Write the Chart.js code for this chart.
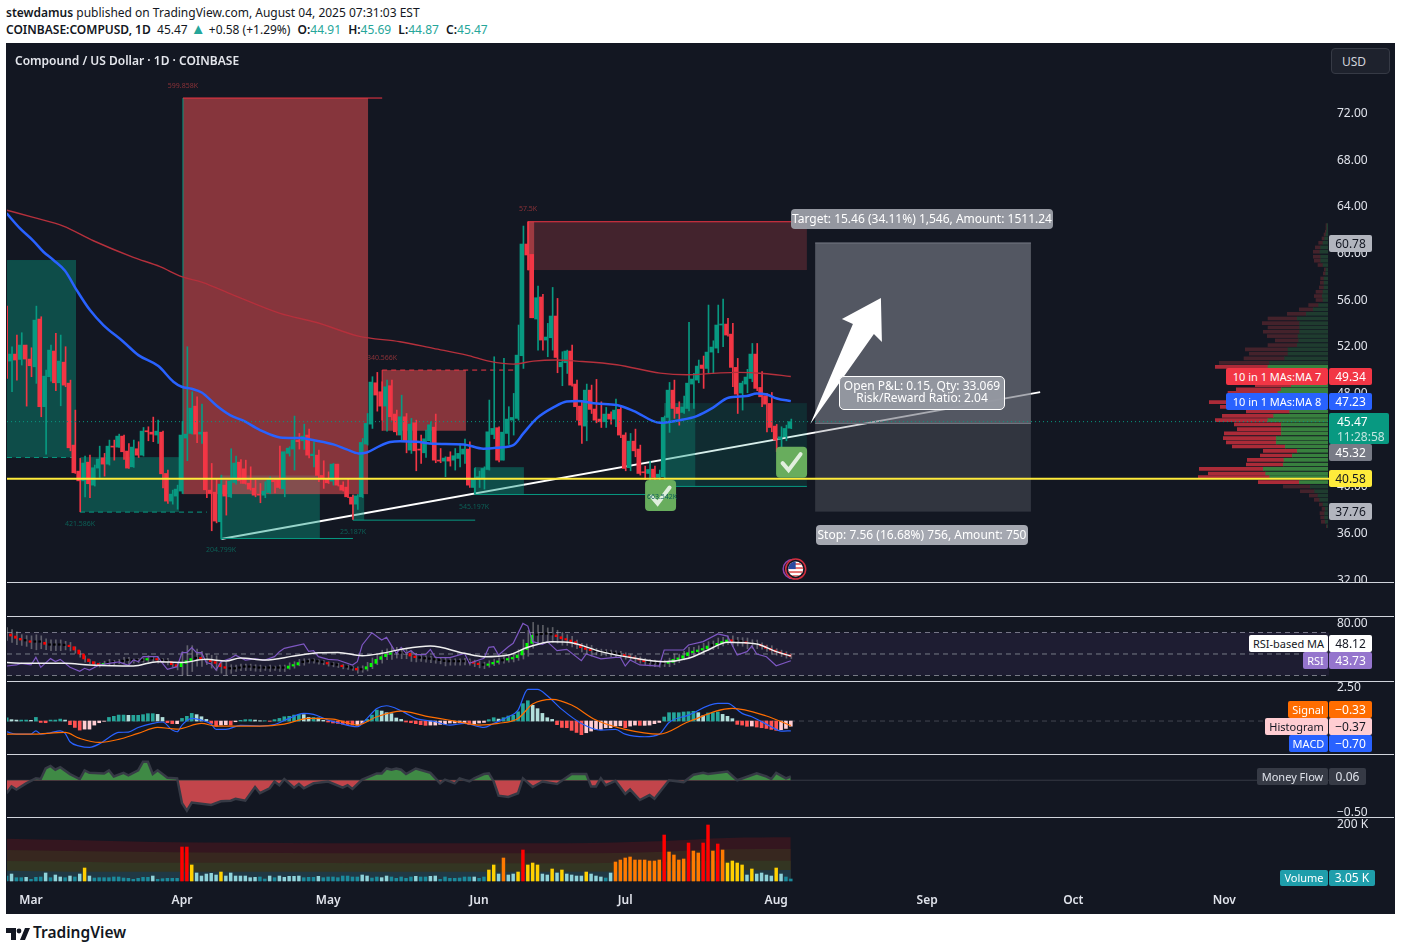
<!DOCTYPE html>
<html>
<head>
<meta charset="utf-8">
<title>COMPUSD</title>
<script src="https://cdn.jsdelivr.net/npm/chart.js@4"></script>
<style>
html,body{margin:0;padding:0;background:#fff;width:1401px;height:951px;overflow:hidden;font-family:"Noto Sans",sans-serif}
#head{position:absolute;left:6px;top:4px;font-size:12px;line-height:17px;color:#131722;white-space:nowrap}
#head b{font-weight:600}
#head .v{color:#26a69a}
#head .t{color:#26a69a;font-size:15px;line-height:12px}
#head .k{margin-left:4px}
#board{position:absolute;left:6px;top:43px;width:1389px;height:871px;background:#131722}
canvas{position:absolute;left:0}
.sep{position:absolute;left:7px;width:1387px;height:1px;background:#d1d4dc;z-index:5}
.chip{position:absolute;z-index:6;font-size:12px;text-align:center;border-radius:2px;white-space:nowrap;box-sizing:border-box}
.chip.leg{font-size:11px}
#title{position:absolute;left:15px;top:52px;font-size:12px;font-weight:600;color:#e4e6ec;z-index:6}
#usd{position:absolute;left:1331px;top:48px;width:59px;height:26px;line-height:26px;box-sizing:border-box;padding-left:10px;border:1px solid #363a45;border-radius:4px;background:#1e222d;color:#d1d4dc;font-size:12px;z-index:6}
#logo{position:absolute;left:6px;top:923px;color:#131722;font-size:15.5px;font-weight:600;line-height:18px}
#logo svg{vertical-align:-2px;margin-right:3px}
</style>
</head>
<body>
<div id="head">
<div><b>stewdamus</b> published on TradingView.com, August 04, 2025 07:31:03 EST</div>
<div><b>COINBASE:COMPUSD, 1D</b>&nbsp; 45.47 <span class="t">▲</span> +0.58 (+1.29%) <b class="k">O:</b><span class="v">44.91</span> <b class="k">H:</b><span class="v">45.69</span> <b class="k">L:</b><span class="v">44.87</span> <b class="k">C:</b><span class="v">45.47</span></div>
</div>
<div id="board"></div>
<div id="title">Compound / US Dollar · 1D · COINBASE</div>
<div id="usd">USD</div>
<canvas id="profileChart" width="1401" height="538" style="top:44px"></canvas>
<canvas id="mainChart" width="1401" height="538" style="top:44px"></canvas>
<canvas id="rsiChart" width="1401" height="69" style="top:612px"></canvas>
<canvas id="macdChart" width="1401" height="77" style="top:677px"></canvas>
<canvas id="flowChart" width="1401" height="67" style="top:750px"></canvas>
<canvas id="volChart" width="1401" height="101" style="top:813px"></canvas>
<div id="overlay"></div>
<div id="logo"><svg width="24" height="12" viewBox="0 0 24 12"><path d="M0 0h10v12H5V5H0zM19 0h5l-5 12h-5z" fill="#131722"/><circle cx="13" cy="3" r="2.4" fill="#131722"/></svg>TradingView</div>

<script>
// days are counted from Mar 1 2025, first bar sits on day -5
const monthDays = [0, 31, 61, 92, 122, 153, 184, 214, 245];
const monthNames = ['Mar', 'Apr', 'May', 'Jun', 'Jul', 'Aug', 'Sep', 'Oct', 'Nov'];
const priceTicks = [32, 36, 40, 44, 48, 52, 56, 60, 64, 68, 72];

const opens = [
55.37,50.66,51.26,50.80,52.03,50.83,50.17,54.26,46.75,49.32,
51.52,48.80,50.57,48.77,43.46,41.23,40.40,42.00,40.03,41.49,
42.37,41.83,43.37,43.29,44.23,42.95,41.60,43.15,42.60,44.69,
44.57,44.32,44.57,41.03,38.66,39.09,39.52,44.06,44.46,46.80,
44.40,44.57,39.60,39.43,36.89,40.03,39.03,40.26,42.00,41.43,
40.20,39.77,39.26,39.17,39.40,40.46,40.52,39.72,42.75,43.12,
43.89,43.83,44.32,42.55,42.60,40.86,40.60,40.37,41.83,40.03,
39.86,39.00,38.40,39.03,43.55,45.26,48.80,48.03,46.80,48.55,
46.12,44.32,45.89,43.03,45.37,43.12,42.80,43.83,45.00,42.17,
42.09,42.43,42.17,42.32,42.69,43.12,39.83,40.52,40.60,41.37,
44.37,44.95,42.17,44.46,45.60,45.75,51.12,60.69,59.80,54.26,
56.15,52.46,52.66,54.52,50.17,50.52,51.52,48.69,46.80,45.09,
48.17,46.55,45.69,45.46,46.12,45.69,46.52,44.32,41.52,43.80,
43.12,41.17,41.03,41.40,40.69,40.75,45.83,48.17,46.69,46.26,
46.60,48.69,49.03,50.32,50.03,51.43,51.77,53.75,53.83,52.97,
50.12,47.92,48.69,49.17,51.26,48.40,47.69,47.03,45.09,43.95,
44.17,44.91];
const closes = [
50.46,51.26,50.75,52.03,50.83,50.26,54.17,46.75,49.37,51.60,
48.80,50.66,48.60,43.23,41.09,40.40,41.92,40.15,41.52,42.26,
41.83,43.37,43.29,44.23,42.89,41.49,43.29,42.60,44.66,44.60,
44.40,44.66,41.00,38.66,39.26,39.69,44.32,44.40,46.63,44.40,
44.57,39.63,39.32,36.95,40.12,39.09,40.37,41.92,40.40,40.17,
39.69,39.17,39.17,39.52,40.60,40.32,39.83,42.89,43.20,43.89,
43.75,44.23,42.60,42.69,40.86,40.60,40.23,41.83,40.03,39.60,
39.03,38.40,39.09,43.69,45.32,48.86,47.75,46.80,48.46,45.89,
44.60,45.89,43.80,45.26,42.97,43.03,44.00,45.20,42.17,42.09,
42.35,42.09,42.55,42.75,43.12,40.03,40.60,40.75,41.46,44.60,
44.89,42.17,44.57,45.69,45.83,51.17,60.69,59.75,54.37,56.09,
52.46,52.72,54.52,50.97,50.57,51.52,48.60,46.75,45.17,48.17,
46.52,45.60,45.46,46.12,45.69,46.46,44.32,41.46,43.80,42.97,
41.03,41.09,41.37,40.69,40.97,45.83,48.17,46.60,46.17,46.72,
48.77,49.12,50.23,50.03,51.43,51.86,53.75,53.80,52.89,50.12,
47.83,48.77,49.29,51.26,48.32,47.60,46.97,44.97,43.89,44.17,
44.89,45.47];
const highs = [
55.37,51.89,52.89,53.09,52.03,51.80,55.37,54.46,49.89,52.03,
53.03,52.89,51.89,49.03,46.46,42.32,42.52,42.60,41.75,43.37,
42.75,43.89,43.89,44.40,44.32,43.60,43.89,43.75,44.97,45.03,
45.86,45.60,44.66,41.32,39.60,40.03,45.49,51.89,48.03,47.60,
46.97,44.57,41.89,40.52,40.89,40.40,43.15,42.52,42.23,42.17,
41.60,40.46,40.17,40.32,40.75,40.52,43.37,42.89,43.32,45.95,
44.46,45.26,44.83,43.75,43.03,42.12,41.17,41.89,41.83,40.32,
40.60,39.17,39.23,44.03,46.17,49.32,49.69,48.89,49.03,49.03,
46.46,47.74,46.17,45.75,45.60,44.32,44.75,45.46,46.12,43.17,
42.46,42.89,43.17,43.60,43.97,43.75,41.46,41.23,41.60,47.32,
51.03,45.03,50.89,46.75,47.89,53.75,62.23,62.60,59.80,57.09,
56.37,53.89,56.97,56.03,51.46,51.60,52.03,49.03,47.17,48.69,
48.60,49.09,47.17,46.69,46.32,47.40,46.75,44.52,44.46,44.83,
43.46,41.66,42.09,41.66,41.32,45.95,48.83,49.03,47.17,47.66,
53.97,49.60,50.75,51.09,55.46,52.40,55.46,55.97,54.32,53.89,
50.89,48.94,49.95,52.17,52.17,49.75,47.89,47.97,45.23,45.03,
45.17,45.69];
const lows = [
49.17,48.03,49.03,50.32,46.80,49.32,48.75,45.89,42.69,48.94,
48.12,46.83,48.46,42.97,41.03,37.75,39.03,38.95,39.95,40.69,
40.80,41.75,42.17,43.26,42.23,41.46,41.55,42.40,42.52,43.83,
43.75,43.60,39.80,38.46,38.40,37.97,39.32,42.12,44.40,43.66,
43.60,38.95,36.12,36.80,35.37,37.46,38.97,40.12,40.17,40.12,
39.60,39.03,38.52,38.95,39.32,39.37,39.75,39.03,42.52,41.32,
43.12,43.09,42.37,41.60,40.32,39.75,40.17,40.03,39.95,39.52,
38.95,37.09,37.95,38.97,43.46,44.89,46.37,45.60,44.66,45.60,
44.32,43.89,42.80,42.75,41.26,41.89,42.40,43.69,41.95,41.95,
40.75,41.66,41.32,41.60,41.89,39.83,39.26,39.83,39.69,41.32,
44.00,42.03,42.17,43.52,44.32,45.60,50.03,58.46,54.37,51.60,
51.60,51.03,51.60,49.66,48.55,49.60,48.52,45.60,43.60,43.83,
46.17,45.37,44.97,44.97,45.26,45.03,44.09,41.26,41.26,42.46,
40.89,40.52,40.32,40.52,40.17,40.03,44.55,45.75,45.17,46.17,
46.40,46.60,48.80,48.32,49.60,49.60,51.37,51.89,52.80,48.46,
46.17,46.46,47.95,48.89,48.12,46.75,44.60,44.60,42.89,43.32,
43.83,44.87];

const blueDays = [-5,-2.26,.48,2.53,4.59,6.98,9.38,12.1,14.85,18.96,22.04,26.15,29.23,30.94,32.99,35.04,38.13,40.86,43.6,47.02,51.13,55.24,58.66,62.08,64.82,67.22,68.93,71.66,73.72,75.77,79.19,82.61,88.77,92.88,96.3,99.04,101.09,103.83,107.25,110,112.05,116.15,120.26,123.68,129.16,133.26,136.69,140.11,143.19,146.95,149.01,151.06,153.12,156];
const blueMa = [63.32,62.03,60.97,60.03,59.32,58.40,56.74,55.03,53.75,52.32,51.17,50.23,48.89,48.46,48.29,47.97,46.83,46.03,45.55,44.75,44.12,44.06,43.83,43.52,43.09,42.75,42.83,43.40,43.72,43.80,43.74,43.57,43.52,43.15,43.26,43.46,44.46,45.75,46.69,47.20,47.23,47.03,46.89,46.40,45.37,45.60,45.95,46.69,47.52,47.66,47.89,47.80,47.46,47.23];
const redDays = [-5,.48,6.64,12.8,21.01,26.49,30.94,35.04,41.55,51.13,58.66,67.22,75.77,82.61,89.46,94.25,99.04,103.15,107.94,112.05,120.26,129.16,134.63,140.79,144.9,150.38,156];
const redMa = [63.60,62.97,62.23,60.97,59.55,58.75,57.89,57.43,56.32,54.75,53.97,52.80,52.32,51.75,51.17,50.63,50.40,50.66,50.75,50.66,50.35,49.63,49.49,49.63,49.69,49.60,49.34];

// drawn zones: [startDay, endDay, topPrice, bottomPrice]
const tealZones = [[-4.93,9.24,59.32,42.40],[10.06,30.4,42.43,37.72],[39,59.3,40.86,35.46],[66.1,68.4,39.23,37.03],[91.2,101.2,41.57,39.23],[130,136.4,47.06,39.92]];
const dimTealZones = [[136.4,159.3,47.06,39.92]];
const redZones = [[31.2,69.2,73.2,39.26],[72.1,89.3,49.89,44.69],[102,103.3,62.6,58.46]];
const dimRedZones = [[102,159.3,62.6,58.46]];
const zoneLabels = [['599.858K',31.2,74.23,'#8a3238'],['340.566K',72.07,50.92,'#8a3238'],['421.586K',10.06,36.7,'#0c5f56'],['204.799K',39.01,34.47,'#0c5f56'],['25.187K',66.12,36,'#0c5f56'],['545.197K',90.97,38.15,'#0c5f56'],['57.5K',102.05,63.69,'#8a3238'],['663.542K',129.57,39.01,'#0c5f56']];
// segments: [x1, p1, x2, p2]
const tealLines = [[31.2,73.2,31.2,39.26],[39,40.86,39,35.46],[39,35.46,66.1,35.46],[66.1,39.23,66.1,37.03],[66.1,37.03,91.2,37.03],[91.2,41.57,91.2,39.23],[91.2,39.23,129.8,39.23],[130,39.92,159.3,39.92]];
const tealDashes = [[-4.93,42.4,9.24,42.4],[10.06,37.72,36.1,37.72]];
const redLines = [[31.2,73.2,72.1,73.2],[102,62.6,159.3,62.6],[72.1,49.89,72.1,44.69],[102,62.6,102,58.46]];
const redDashes = [[72.1,49.89,99.8,49.89]];
const trendDays = [39.01, 207.2];
const trendPrices = [35.41, 48];
const supportPrice = 40.58;
const lastPrice = 45.47;
const positionDays = [161, 205.3];
const positionPrices = { target: 60.78, entry: 45.32, stop: 37.76 };
const arrowFrom = [160, 45.26];
const arrowTo = [174.5, 56.06];
const checkMarks = [[129.26, 39.14], [156.16, 42]];
const flagMark = [157, 32.84];

// volume profile rows
const vpPrices = [62.31,62.03,61.74,61.51,61.17,60.80,60.40,60.03,59.60,59.26,58.89,58.51,58.17,57.74,57.37,56.97,56.60,56.23,55.89,55.46,55.09,54.71,54.31,53.91,53.54,53.17,52.80,52.43,52.03,51.66,51.29,50.89,50.51,50.17,49.77,49.40,49.00,48.60,48.23,47.94,47.54,47.14,46.74,46.34,45.97,45.60,45.23,44.83,44.46,44.06,43.69,43.34,42.97,42.57,42.20,41.80,41.43,41.03,40.71,40.29,39.91,39.51,39.14,38.77,38.37,38.00,37.63,37.26,36.89,36.51];
const vpUp = [3,3,4,6,10,15,22,24,22,22,15,6,7,12,12,12,15,17,15,28,44,65,92,85,85,85,90,88,92,120,120,130,175,180,160,130,110,110,140,150,150,190,170,115,163,180,140,140,140,155,155,128,92,107,132,134,194,187,175,86,53,40,30,25,15,8,10,10,8,2];
const vpDown = [3,3,4,6,8,13,16,20,22,19,15,5,7,10,11,14,21,24,21,30,42,57,88,112,95,109,92,70,88,128,116,122,151,158,140,130,110,108,135,150,150,166,153,130,154,158,141,132,171,159,150,159,102,96,110,111,192,172,214,123,81,43,26,16,11,10,14,12,12,3];

// rsi pane
const rsiDays = [-5,-3,-2,0,1,2,4,5,6,8,10,11,12,14,16,18,20,21,22,23,26,27,28,30,31,32,33,34,35,36,37,38,39,41,42,44,46,48,50,51,52,54,56,57,58,59,61,63,66,67,68,70,72,73,75,76,77,78,79,81,82,83,86,89,90,93,94,95,96,98,99,101,102,103,105,106,108,110,113,114,117,120,121,122,123,125,129,130,132,134,135,138,141,143,145,147,148,149,151,153,156];
const rsiLine = [38.8,39.8,41.3,39.8,46.9,37.6,45.7,42.9,45,37.6,33.9,36.7,35.1,39.8,41.3,42.6,39.4,44.4,42.9,47.5,47.5,41.3,35.7,38.2,51.2,51.2,55.9,51.2,51.2,42,40.7,35.1,42.9,46,48.8,44.4,45.4,44.4,47.5,52.2,55.3,57.4,59.3,52.5,53.1,47.5,45,44.4,39.8,42.9,58.4,69.8,63,65.5,50.6,56.2,50.6,53.1,49.4,49.4,54.3,46.9,46.6,50.6,41.3,46,56.2,56.8,49.1,56.8,59.9,78.5,76,61.5,59,61.5,53.1,54.3,43.8,50,45.4,46.9,46.9,38.8,44.4,39.8,38.8,53.7,53.7,53.7,58.4,61.5,68.6,66.7,49.1,52.2,57.4,50,47.5,39.1,43.73];
const rsiMaDays = [-5,0,7,12,21,26,31,36,40,43,48,54,59,63,68,72,76,82,89,93,98,102,107,111,117,124,130,135,139,143,149,153,156];
const rsiMa = [42,41.3,41.3,39.8,38.8,42.9,42.2,45,43.5,46.3,44.4,48.1,51.2,51.5,48.4,50.6,54.3,57.4,50.6,47.5,49.1,56.2,61.5,60.5,52.2,46,42.9,46,53.7,60.9,59.3,52.2,48.12];
const rsiClose = [
68.6,66.7,64.6,63,62.1,60.9,60.9,60.9,59,58.1,
58.1,58.1,57.8,56.8,53.7,50,45.4,42.9,40.7,39.8,
41.3,42,42,42.9,43.8,43.8,43.5,43.8,44.4,45.4,
45.4,44.4,43.8,42.9,40.1,38.2,41.3,43.8,45.7,46.6,
45.4,45,42.9,41.3,38.2,36.7,36,36.7,37.6,37.6,
37.6,37,36.7,36.7,36.7,36.7,36.7,36.7,38.8,39.8,
42,42.6,43.5,43.5,42.6,42,40.7,40.1,39.4,38.2,
37.6,36.7,35.1,36,38.2,41.3,45,47.5,49.7,51,
51.2,50.6,50.6,48.1,46.6,46,45.4,45,44.4,43.8,
42.9,42.6,42.6,42.6,42.9,42.6,41.3,40.1,39.4,40.7,
42.2,43.5,44.4,45.4,46.6,49.1,54.3,59.9,67.4,68,
68.6,68.3,67.7,66.1,64.2,63,61.5,59,55.9,54.3,
53.1,52.2,51.5,51.2,50.6,50,49.4,48.1,46.9,45.7,
44.4,42.9,42,41.3,40.7,41.3,42.2,45,46,48.4,
51.2,52.2,53.7,55,57.4,58.1,59.9,61.5,63,61.8,
61.5,61.2,59.9,59.3,59,57.4,55.3,53.7,51.9,50.6,
49.1,47.8];
const rsiWick = [
6,6,6,5,5,6,7,6,5,5,
5,5,4,4,3,3,3,2,2,2,
2,3,2,2,3,3,2,2,2,3,
2,3,2,3,2,3,11,14,12,8,
7,5,6,7,6,6,4,3,3,3,
3,3,3,2,3,2,3,3,3,3,
3,3,2,2,2,2,2,2,2,2,
2,2,3,3,4,5,5,6,5,6,
5,5,5,5,4,3,3,3,3,3,
4,3,3,3,3,3,3,3,3,3,
3,3,3,3,4,5,9,12,12,9,
8,6,7,6,6,5,5,4,4,5,
5,3,3,3,3,3,3,3,3,3,
3,3,3,3,3,3,4,5,4,4,
5,4,4,5,4,4,5,4,4,5,
4,4,5,4,4,3,3,4,3,3,
3,2];
const rsiLevels = [70, 50, 30];

// macd pane
const macdDays = [-5,-3,0,1,2,4,6,7,8,10,12,14,16,18,20,22,25,27,29,30,31,33,35,37,38,40,43,47,50,53,56,58,61,63,67,69,71,73,76,77,79,83,86,89,92,93,95,98,100,102,104,106,109,113,117,120,122,126,129,131,135,141,143,146,148,152,154,156];
const macdLine = [-.77,-.94,-.94,-.70,-.94,-.84,-.70,-.89,-1.49,-1.80,-1.89,-1.65,-1.18,-.82,-.79,-.46,-.17,-.07,-.65,-.77,-.29,.19,.07,-.22,-.60,-.60,-.31,-.36,-.26,.19,.55,.48,.07,-.12,-.41,.19,.91,1.10,.74,.55,.19,-.05,-.29,-.17,-.41,-.46,-.17,.31,.79,2.28,2.28,1.82,.84,-.17,-.65,-.60,-.94,-1.13,-.94,-.10,.43,1.27,1.27,.55,.31,-.41,-.72,-.70];
const signalDays = [-5,0,7,10,14,18,22,26,30,35,38,47,52,57,62,67,71,76,81,87,92,96,100,103,107,111,116,122,129,135,144,151,156];
const signalLine = [-.94,-.94,-.82,-1.25,-1.54,-1.32,-.89,-.46,-.58,-.17,-.36,-.36,-.22,.19,.14,-.29,.31,.72,.36,0,-.29,-.17,.19,1.22,1.56,1.15,.07,-.60,-.94,-.05,.91,.36,-.33];
const macdHist = [
.24,.10,.07,.07,.07,.05,.26,-.10,-.12,.07,
.07,.14,.07,-.26,-.46,-.65,-.58,-.58,-.29,-.12,
-.02,.26,.34,.43,.43,.41,.41,.41,.46,.53,
.53,.48,.26,-.12,-.19,-.19,.19,.34,.55,.46,
.31,.12,-.17,-.38,-.29,-.26,-.29,-.05,.05,.10,
.10,.07,.02,.02,-.02,.10,.19,.31,.34,.43,
.48,.46,.26,.26,.22,.05,-.07,-.14,-.17,-.22,
-.24,-.29,-.29,-.19,.12,.43,.79,.72,.60,.53,
.22,.12,-.07,-.12,-.19,-.26,-.31,-.29,-.29,-.24,
-.22,-.14,-.14,-.12,-.12,-.26,-.19,-.14,-.10,.10,
.24,.14,.24,.36,.41,.67,1.25,1.46,1.13,.89,
.55,.24,.12,-.26,-.46,-.48,-.67,-.82,-.98,-.84,
-.72,-.60,-.60,-.48,-.48,-.36,-.34,-.48,-.36,-.29,
-.31,-.31,-.29,-.19,-.10,.29,.60,.60,.60,.65,
.67,.70,.60,.38,.58,.60,.65,.48,.34,.17,
-.24,-.29,-.38,-.36,-.43,-.48,-.53,-.60,-.67,-.62,
-.53,-.37];

// money flow pane
const flowDays = [-5,-4,-3,-1,1,2,3,4,5,6,8,10,11,12,15,16,17,19,20,22,23,24,25,26,28,30,31,32,33,37,39,41,42,44,46,47,49,50,51,52,54,55,56,58,61,64,65,66,68,71,72,73,74,75,76,77,79,82,84,85,87,88,90,91,93,94,95,96,98,100,101,103,105,108,111,114,115,116,117,118,120,122,123,125,127,128,131,134,136,138,139,143,145,149,151,152,153,155,156];
const flowValues = [-.21,-.10,-.15,-.05,.03,.02,.19,.23,.17,.21,.10,.02,.16,.12,.11,.16,.06,.12,.08,.16,.30,.30,.10,.16,.04,.03,-.37,-.49,-.36,-.40,-.34,-.33,-.30,-.33,-.11,-.21,-.13,-.02,-.08,.02,-.12,-.06,-.13,-.05,-.02,-.12,-.08,-.14,.01,.11,.11,.19,.17,.19,.17,.10,.19,.12,-.05,.01,-.05,.03,-.02,.03,.10,.11,-.02,-.25,-.27,-.21,.03,-.11,-.02,-.06,.10,.10,-.10,-.10,.03,-.08,-.01,-.22,-.15,-.32,-.24,-.30,0,-.03,.09,.12,.10,.14,0,.11,.06,.02,.12,.03,.06];

// volume pane, in thousands
const volumes = [
17.2,24.1,11.5,11.5,12.6,5.7,12.6,13.8,27.6,11.5,
20.7,13.8,11.5,17.2,13.8,24.1,44.8,17.2,10.3,11.5,
11.5,11.5,13.8,13.8,10.3,9.2,5.7,9.2,12.6,12.6,
17.2,5.7,8,9.2,9.2,9.2,117.2,117.2,55.2,27.6,
17.2,24.1,26.4,20.7,31,17.2,27.6,17.2,17.2,17.2,
11.5,12.6,13.8,6.9,17.2,11.5,17.2,12.6,16.1,16.1,
17.2,11.5,12.6,12.6,16.1,11.5,13.8,13.8,11.5,17.2,
17.2,13.8,13.8,20.7,17.2,10.3,13.8,11.5,17.2,13.8,
9.2,13.8,9.2,13.8,16.1,13.8,13.8,16.1,17.2,5.7,13.8,
9.2,9.2,10.3,13.8,13.8,13.8,9.2,13.8,37.9,55.2,
24.1,79.3,20.7,24.1,31,106.9,55.2,62,55.2,24.1,
20.7,41.4,27.6,37.9,24.1,20.7,17.2,17.2,31,24.1,
17.2,13.8,10.3,27.6,65.5,72.4,79.3,82.8,72.4,72.4,
72.4,69,69,72.4,158.6,100,89.7,72.4,75.9,131,
103.4,96.6,131,193.1,103.4,127.6,106.9,62,69,62,
55.2,20.7,41.4,24.1,27.6,20.7,17.2,44.8,24.1,13.8,
6.9];
const volLevels = [
0,1,0,0,1,0,0,0,1,0,
1,1,0,1,0,1,2,1,0,0,
0,0,0,0,0,0,0,0,0,0,
1,0,0,0,0,0,4,4,2,1,
1,1,1,1,2,1,1,1,1,1,
1,1,0,0,1,0,1,1,1,1,
1,0,0,0,1,0,0,0,0,0,
0,0,0,1,1,0,0,1,1,0,
0,0,0,0,1,0,0,1,1,0,0,
0,0,0,0,0,1,0,0,2,2,
1,3,1,1,2,4,2,2,2,1,
1,2,1,2,1,1,1,1,2,1,
1,1,0,1,3,3,3,3,3,3,
3,3,3,3,4,3,3,3,3,4,
3,3,4,4,3,4,3,2,2,2,
2,1,2,1,1,1,1,2,1,0,
0];
const bandDays = [-5,8,25,45,76,110,130,143,156];
const bandTeal = [35.6,32.2,32.2,32.2,32.2,32.2,34.5,36.8,37.9];
const bandOlive = [69,66.7,63.2,63.2,60.9,60.9,66.7,70.1,70.1];
const bandBrown = [106.9,103.4,100,97.7,95.4,95.4,101.1,109.2,110.3];
const bandRed = [146,141.4,134.5,132.2,129.9,129.9,137.9,148.3,150.6];

const UP = '#089981', DOWN = '#f23645';
const volPalette = ['#1b8a9c', '#8fd3da', '#ffd000', '#ff7a00', '#ff0000'];
const X_MIN = -4.93, X_MAX = 266.5;
const barDays = opens.map((_, i) => i - 5);
const TREND_INDEX = 4;

Chart.defaults.font.family = '"Noto Sans", sans-serif';
Chart.defaults.font.size = 12;
Chart.defaults.animation = false;

function pts(xs, ys) { return xs.map((x, i) => ({ x: x, y: ys[i] })); }

function line(xs, ys, color, width, extra) {
    return Object.assign({
        type: 'line', data: pts(xs, ys), borderColor: color, borderWidth: width,
        pointRadius: 0, fill: false, cubicInterpolationMode: 'monotone'
    }, extra || {});
}

function paneOptions(yMin, yMax, yTicks, fmt, topPad, xAxis) {
    return {
        responsive: false,
        events: [],
        layout: { padding: { left: 7, top: topPad, right: 0, bottom: 0 } },
        plugins: { legend: { display: false }, tooltip: { enabled: false } },
        scales: {
            x: xAxis || { type: 'linear', min: X_MIN, max: X_MAX, offset: false, display: false },
            y: {
                position: 'right', min: yMin, max: yMax,
                grid: { display: false, drawTicks: false }, border: { display: false },
                afterFit: s => { s.width = 72; s.paddingTop = 0; s.paddingBottom = 0; },
                afterBuildTicks: s => { s.ticks = yTicks.map(v => ({ value: v })); },
                ticks: { color: '#e0e3eb', padding: 8, labelOffset: 1.5, callback: fmt }
            }
        }
    };
}

function rect(ctx, c, zone, color) {
    const x1 = c.scales.x.getPixelForValue(zone[0]), x2 = c.scales.x.getPixelForValue(zone[1]);
    const y1 = c.scales.y.getPixelForValue(zone[2]), y2 = c.scales.y.getPixelForValue(zone[3]);
    ctx.fillStyle = color;
    ctx.fillRect(x1, y1, x2 - x1, y2 - y1);
}

function seg(ctx, c, s, color, dash) {
    ctx.strokeStyle = color;
    ctx.lineWidth = 1;
    ctx.setLineDash(dash || []);
    ctx.beginPath();
    ctx.moveTo(c.scales.x.getPixelForValue(s[0]), c.scales.y.getPixelForValue(s[1]));
    ctx.lineTo(c.scales.x.getPixelForValue(s[2]), c.scales.y.getPixelForValue(s[3]));
    ctx.stroke();
    ctx.setLineDash([]);
}

const zonesPlugin = {
    id: 'zones',
    // boxes tint the trend line but stay behind the candles, so draw them right after it
    afterDatasetDraw(c, args) {
        if (args.index !== TREND_INDEX) return;
        const ctx = c.ctx;
        ctx.save();
        tealZones.forEach(z => rect(ctx, c, z, 'rgba(8,153,129,0.42)'));
        dimTealZones.forEach(z => rect(ctx, c, z, 'rgba(8,153,129,0.16)'));
        redZones.forEach(z => rect(ctx, c, z, 'rgba(240,80,85,0.52)'));
        dimRedZones.forEach(z => rect(ctx, c, z, 'rgba(240,80,85,0.22)'));
        tealLines.forEach(s => seg(ctx, c, s, '#089981'));
        tealDashes.forEach(s => seg(ctx, c, s, '#089981', [5, 4]));
        redLines.forEach(s => seg(ctx, c, s, '#f23645'));
        redDashes.forEach(s => seg(ctx, c, s, '#f23645', [5, 4]));
        // long/short tool
        const top = [positionDays[0], positionDays[1], positionPrices.target, positionPrices.entry];
        const bot = [positionDays[0], positionDays[1], positionPrices.entry, positionPrices.stop];
        rect(ctx, c, top, 'rgba(120,123,134,0.64)');
        rect(ctx, c, bot, 'rgba(120,123,134,0.3)');
        seg(ctx, c, [positionDays[0], positionPrices.target, positionDays[1], positionPrices.target], '#787b86');
        seg(ctx, c, [positionDays[0], positionPrices.entry, positionDays[1], positionPrices.entry], '#787b86');
        ctx.restore();
    },
    afterDatasetsDraw(c) {
        const ctx = c.ctx, sx = c.scales.x, sy = c.scales.y;
        ctx.save();
        // arrow
        const ax = sx.getPixelForValue(arrowFrom[0]), ay = sy.getPixelForValue(arrowFrom[1]);
        const tx = sx.getPixelForValue(arrowTo[0]), ty = sy.getPixelForValue(arrowTo[1]);
        ctx.fillStyle = '#ffffff';
        ctx.beginPath();
        ctx.moveTo(ax, ay);
        ctx.lineTo(tx - 28, ty + 26);
        ctx.lineTo(tx - 39, ty + 21);
        ctx.lineTo(tx, ty);
        ctx.lineTo(tx + 1, ty + 44);
        ctx.lineTo(tx - 7, ty + 36);
        ctx.closePath();
        ctx.fill();
        // check marks
        checkMarks.forEach(m => {
            const x = sx.getPixelForValue(m[0]), y = sy.getPixelForValue(m[1]);
            ctx.fillStyle = '#68ad5d';
            ctx.beginPath();
            ctx.roundRect(x - 15.5, y - 15.5, 31, 31, 4);
            ctx.fill();
            ctx.strokeStyle = 'rgba(255,255,255,0.8)';
            ctx.lineWidth = 4;
            ctx.lineCap = 'round';
            ctx.beginPath();
            ctx.moveTo(x - 9, y + 1);
            ctx.lineTo(x - 3, y + 8);
            ctx.lineTo(x + 9, y - 8);
            ctx.stroke();
        });
        // small size labels
        ctx.font = '7px "Noto Sans", sans-serif';
        ctx.textAlign = 'center';
        ctx.textBaseline = 'middle';
        zoneLabels.forEach(l => {
            ctx.fillStyle = l[3];
            ctx.fillText(l[0], sx.getPixelForValue(l[1]), sy.getPixelForValue(l[2]));
        });
        // event flag
        const fx = sx.getPixelForValue(flagMark[0]), fy = sy.getPixelForValue(flagMark[1]);
        ctx.strokeStyle = '#8e44ad';
        ctx.lineWidth = 1.5;
        ctx.beginPath(); ctx.arc(fx - 3, fy, 9.5, 0, Math.PI * 2); ctx.stroke();
        ctx.beginPath(); ctx.arc(fx, fy, 10, 0, Math.PI * 2); ctx.fillStyle = '#131722'; ctx.fill();
        ctx.strokeStyle = '#d32f3f';
        ctx.beginPath(); ctx.arc(fx, fy, 10, 0, Math.PI * 2); ctx.stroke();
        ctx.beginPath(); ctx.arc(fx, fy, 7.5, 0, Math.PI * 2); ctx.fillStyle = '#ffffff'; ctx.fill();
        ctx.beginPath(); ctx.arc(fx, fy, 7.5, 0, Math.PI * 2); ctx.clip();
        ctx.fillStyle = '#e57373';
        for (let i = -6; i < 8; i += 4) ctx.fillRect(fx - 8, fy + i, 16, 2);
        ctx.fillStyle = '#2a4aa0';
        ctx.fillRect(fx - 8, fy - 8, 8, 8);
        ctx.restore();
    }
};

new Chart(document.getElementById('mainChart'), {
    type: 'bar',
    plugins: [zonesPlugin],
    data: {
        datasets: [
            { data: pts(barDays, barDays.map((_, i) => [lows[i], highs[i]])), barThickness: 1, order: 5,
              backgroundColor: closes.map((v, i) => v >= opens[i] ? UP : DOWN) },
            { data: pts(barDays, barDays.map((_, i) => [opens[i], closes[i]])), barThickness: 3, minBarLength: 1, order: 4,
              backgroundColor: closes.map((v, i) => v >= opens[i] ? UP : DOWN) },
            line(redDays, redMa, '#b5303c', 1.4, { order: 3 }),
            line(blueDays, blueMa, '#2962ff', 2.5, { order: 2 }),
            line(trendDays, trendPrices, '#ffffff', 2, { order: 6, cubicInterpolationMode: 'default' }),
            line([X_MIN, X_MAX], [lastPrice, lastPrice], '#089981', 1, { order: 1, borderDash: [1, 3] }),
            line([X_MIN, X_MAX], [supportPrice, supportPrice], '#ffeb3b', 2, { order: 0 })
        ]
    },
    options: paneOptions(31.73, 77.83, priceTicks, v => v.toFixed(2), 0)
});

// volume profile sits on its own canvas, same price range as the main pane
new Chart(document.getElementById('profileChart'), {
    type: 'bar',
    data: {
        datasets: [
            { data: vpUp.map((v, i) => ({ x: v, y: vpPrices[i] })), barThickness: 3, stack: 'vp',
              backgroundColor: vpPrices.map(p => (p < 50.3 && p > 40.2) ? '#38803e' : '#1f3c2f') },
            { data: vpDown.map((v, i) => ({ x: v, y: vpPrices[i] })), barThickness: 3, stack: 'vp',
              backgroundColor: vpPrices.map(p => (p < 50.3 && p > 40.2) ? '#ab2b38' : '#44222b') }
        ]
    },
    options: {
        responsive: false, events: [], indexAxis: 'y',
        layout: { padding: { left: 1180, right: 73, top: 0, bottom: 0 } },
        plugins: { legend: { display: false }, tooltip: { enabled: false } },
        scales: {
            x: { type: 'linear', display: false, reverse: true, min: 0, max: 444, stacked: true, offset: false },
            y: { type: 'linear', display: false, min: 31.73, max: 77.83, stacked: true, offset: false }
        }
    }
});

const rsiPrev = rsiClose.map((v, i) => i ? rsiClose[i - 1] : v);
new Chart(document.getElementById('rsiChart'), {
    type: 'bar',
    data: {
        datasets: [
            line([X_MIN, X_MAX], [rsiLevels[0], rsiLevels[0]], '#787b86', 1, { borderDash: [5, 4], order: 9 }),
            line([X_MIN, X_MAX], [rsiLevels[2], rsiLevels[2]], '#787b86', 1, { borderDash: [5, 4], order: 8, fill: '-1', backgroundColor: 'rgba(126,87,194,0.1)' }),
            line([X_MIN, X_MAX], [rsiLevels[1], rsiLevels[1]], '#787b86', 1, { borderDash: [5, 4], order: 7 }),
            { data: pts(barDays, rsiClose.map((v, i) => [v - rsiWick[i], v + rsiWick[i]])), barThickness: 1, order: 6, backgroundColor: 'rgba(180,180,180,0.45)' },
            { data: pts(barDays, rsiClose.map((v, i) => [rsiPrev[i], v])), barThickness: 2, minBarLength: 1.5, order: 5,
              backgroundColor: rsiClose.map((v, i) => v - rsiPrev[i] > 0.9 ? '#00ff00' : v - rsiPrev[i] < -0.9 ? '#ff0000' : '#000000') },
            line(rsiDays, rsiLine, '#7e57c2', 1.2, { order: 2, cubicInterpolationMode: 'default' }),
            line(rsiMaDays, rsiMa, '#f0f0f0', 1.5, { order: 1 })
        ]
    },
    options: paneOptions(24.88, 85.35, [80], v => v.toFixed(2), 4)
});

new Chart(document.getElementById('macdChart'), {
    type: 'bar',
    data: {
        datasets: [
            line([X_MIN, X_MAX], [0, 0], '#434651', 1, { borderDash: [5, 4], order: 9 }),
            { data: pts(barDays, macdHist), barThickness: 3, order: 5,
              backgroundColor: macdHist.map((v, i) => {
                  const prev = i ? macdHist[i - 1] : v;
                  if (v >= 0) return v >= prev ? '#26a69a' : '#b2dfdb';
                  return v < prev ? '#ff5252' : '#ffcdd2';
              }) },
            line(macdDays, macdLine, '#2962ff', 1.2, { order: 2 }),
            line(signalDays, signalLine, '#ff6d00', 1.2, { order: 1 })
        ]
    },
    options: paneOptions(-2.37, 2.88, [2.5], v => v.toFixed(2), 4)
});

new Chart(document.getElementById('flowChart'), {
    type: 'line',
    data: {
        datasets: [
            line([X_MIN, X_MAX], [0, 0], '#363a45', 1, { order: 3 }),
            line(flowDays, flowValues, '#363a45', 2.5, {
                order: 1, cubicInterpolationMode: 'default',
                fill: { target: { value: 0 }, above: '#3f8a45', below: '#c2454b' }
            })
        ]
    },
    options: paneOptions(-0.594, 0.424, [-0.5], v => '\u2212' + Math.abs(v).toFixed(2), 4)
});

new Chart(document.getElementById('volChart'), {
    type: 'bar',
    data: {
        datasets: [
            line(bandDays, bandRed, 'rgba(0,0,0,0)', 0, { order: 13, fill: 'origin', backgroundColor: '#34161f' }),
            line(bandDays, bandBrown, 'rgba(0,0,0,0)', 0, { order: 12, fill: 'origin', backgroundColor: '#37271f' }),
            line(bandDays, bandOlive, 'rgba(0,0,0,0)', 0, { order: 11, fill: 'origin', backgroundColor: '#333522' }),
            line(bandDays, bandTeal, 'rgba(0,0,0,0)', 0, { order: 10, fill: 'origin', backgroundColor: '#203844' }),
            { data: pts(barDays, volumes), barThickness: 2.8, order: 1, backgroundColor: volLevels.map(l => volPalette[l]) }
        ]
    },
    options: paneOptions(-24.1, 220.7, [200], v => v + ' K', 4, {
        type: 'linear', min: X_MIN, max: X_MAX, offset: false,
        grid: { display: false, drawTicks: false }, border: { display: false },
        afterFit: s => { s.height = 26; s.paddingLeft = 0; s.paddingRight = 0; },
        afterBuildTicks: s => { s.ticks = monthDays.map(v => ({ value: v })); },
        ticks: {
            color: '#e0e3eb', padding: 5, autoSkip: false, maxRotation: 0,
            font: { weight: '600' },
            callback: v => monthNames[monthDays.indexOf(v)]
        }
    })
});

// pane separators
const overlay = document.getElementById('overlay');
[582, 616, 681, 754, 817].forEach(y => {
    const d = document.createElement('div');
    d.className = 'sep';
    d.style.top = y + 'px';
    overlay.appendChild(d);
});

function chip(text, left, top, w, h, bg, color, extra, cls) {
    const d = document.createElement('div');
    d.className = 'chip' + (cls ? ' ' + cls : '');
    d.innerHTML = text;
    d.style.cssText = 'left:' + left + 'px;top:' + top + 'px;width:' + w + 'px;height:' + h + 'px;line-height:' + h + 'px;background:' + bg + ';color:' + color + ';' + (extra || '');
    overlay.appendChild(d);
}

// axis tags and legends
chip('60.78', 1329, 235, 43, 17, '#b2b5be', '#131722');
chip('10 in 1 MAs:MA 7', 1226, 368, 102, 17, '#f23645', '#fff', '', 'leg');
chip('49.34', 1329, 368, 43, 17, '#f23645', '#fff');
chip('10 in 1 MAs:MA 8', 1226, 393, 102, 17, '#2962ff', '#fff', '', 'leg');
chip('47.23', 1329, 393, 43, 17, '#2962ff', '#fff');
chip('<div style="line-height:15px;text-align:left;padding:1px 0 0 8px">45.47<br><span style="opacity:.75">11:28:58</span></div>', 1329, 413, 60, 31, '#089981', '#fff', 'line-height:15px');
chip('45.32', 1329, 444, 43, 17, '#787b86', '#fff');
chip('40.58', 1329, 470, 43, 17, '#ffeb3b', '#131722');
chip('37.76', 1329, 503, 43, 17, '#b2b5be', '#131722');
chip('RSI-based MA', 1249, 635, 79, 17, '#ffffff', '#131722', '', 'leg');
chip('48.12', 1329, 635, 43, 17, '#ffffff', '#131722');
chip('RSI', 1303, 652, 25, 17, '#9575cd', '#fff', '', 'leg');
chip('43.73', 1329, 652, 43, 17, '#9575cd', '#fff');
chip('Signal', 1288, 701, 40, 17, '#ff6d00', '#fff', '', 'leg');
chip('\u22120.33', 1329, 701, 43, 17, '#ff6d00', '#fff');
chip('Histogram', 1265, 718, 63, 17, '#ffcdd2', '#131722', '', 'leg');
chip('\u22120.37', 1329, 718, 43, 17, '#ffcdd2', '#131722');
chip('MACD', 1289, 735, 39, 17, '#2962ff', '#fff', '', 'leg');
chip('\u22120.70', 1329, 735, 43, 17, '#2962ff', '#fff');
chip('Money Flow', 1257, 768, 71, 17, '#363a45', '#e0e3eb', '', 'leg');
chip('0.06', 1329, 768, 37, 17, '#363a45', '#e0e3eb');
chip('Volume', 1280, 870, 48, 16, '#1f9eab', '#fff', '', 'leg');
chip('3.05 K', 1329, 870, 46, 16, '#1f9eab', '#fff');

// drawing labels
chip('Target: 15.46 (34.11%) 1,546, Amount: 1511.24', 791, 209, 262, 20, 'rgba(160,163,171,0.92)', '#fff', 'border-radius:4px');
chip('Stop: 7.56 (16.68%) 756, Amount: 750', 816, 525, 212, 20, 'rgba(178,181,190,0.92)', '#fff', 'border-radius:4px');
chip('<div style="line-height:12px;padding-top:3px">Open P&amp;L: 0.15, Qty: 33.069<br>Risk/Reward Ratio: 2.04</div>', 839, 376, 166, 34, 'rgba(149,152,161,0.97)', '#fff', 'border:1px solid #fff;border-radius:5px');
</script>
</body>
</html>
